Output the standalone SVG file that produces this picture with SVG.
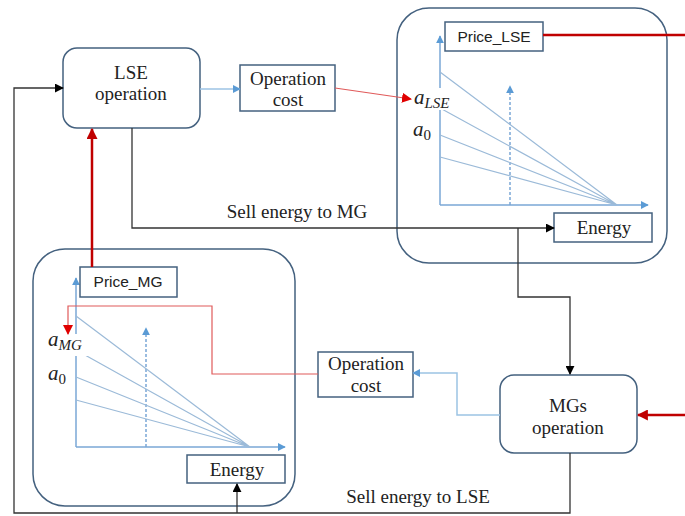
<svg xmlns="http://www.w3.org/2000/svg" width="685" height="516" viewBox="0 0 685 516">
<defs>
<style>
.box{fill:#fff;stroke:#44617f;stroke-width:1.5}
.big{fill:none;stroke:#44617f;stroke-width:1.5}
.t{font-family:'Liberation Serif','Times New Roman',serif;font-size:19px;fill:#222;text-anchor:middle}
.s{font-family:'Liberation Sans',Arial,sans-serif;font-size:15.5px;fill:#222;text-anchor:middle}
.m{font-family:'Liberation Serif','Times New Roman',serif;font-style:italic;font-size:21px;fill:#222}
.sub{font-size:15px}
.ax{stroke:#7aa7d6;stroke-width:1.5;fill:none}
.ln{stroke:#9bbad8;stroke-width:1.2;fill:none}
.blk{stroke:#333;stroke-width:1.3;fill:none}
.red{stroke:#c00000;stroke-width:2.5;fill:none}
.redt{stroke:#e05a5a;stroke-width:1.2;fill:none}
.blu{stroke:#9cc3e4;stroke-width:1.5;fill:none}
</style>
<marker id="ab" viewBox="0 0 10 10" refX="9" refY="5" markerWidth="8" markerHeight="8" markerUnits="userSpaceOnUse" orient="auto"><path d="M0,0L10,5L0,10z" fill="#5b9bd5"/></marker>
<marker id="ak" viewBox="0 0 10 10" refX="9" refY="5" markerWidth="9" markerHeight="9" markerUnits="userSpaceOnUse" orient="auto"><path d="M0,0L10,5L0,10z" fill="#000"/></marker>
<marker id="ar" viewBox="0 0 10 10" refX="9" refY="5" markerWidth="11" markerHeight="11" markerUnits="userSpaceOnUse" orient="auto"><path d="M0,0L10,5L0,10z" fill="#c00000"/></marker>
<marker id="art" viewBox="0 0 10 10" refX="9" refY="5" markerWidth="10" markerHeight="10" markerUnits="userSpaceOnUse" orient="auto"><path d="M0,0L10,5L0,10z" fill="#e00000"/></marker>
</defs>
<rect width="685" height="516" fill="#fff"/>

<g id="lse-market">
<rect class="big" x="397" y="8" width="270" height="255" rx="32"/>
<path class="ax" d="M440,205V36" marker-end="url(#ab)"/>
<path class="ax" d="M440,205H648" marker-end="url(#ab)"/>
<path class="ax" d="M510,205V86" stroke-dasharray="3,2" marker-end="url(#ab)"/>
<path class="ln" d="M440,72L617,205M440,108L617,205M440,135L617,205M440,157L617,205"/>
<rect x="412" y="88" width="42" height="22" fill="#fff"/>
<text class="m" x="414" y="104">a<tspan class="sub" dy="4">LSE</tspan></text>
<rect x="410" y="120" width="28" height="24" fill="#fff"/>
<text class="m" x="413" y="136">a<tspan class="sub" font-style="normal" dy="4">0</tspan></text>
</g>
<g id="price-lse"><rect class="box" x="445" y="22" width="98" height="29"/><text class="s" x="494" y="42">Price_LSE</text></g>
<g id="energy-lse"><rect class="box" x="554" y="213" width="98" height="29"/><text class="t" x="604" y="234">Energy</text></g>

<g id="mg-market">
<rect class="big" x="33" y="249" width="262" height="257" rx="32"/>
<path class="ax" d="M76,447V278" marker-end="url(#ab)"/>
<path class="ax" d="M76,447H285" marker-end="url(#ab)"/>
<path class="ax" d="M146,447V328" stroke-dasharray="3,2" marker-end="url(#ab)"/>
<path class="ln" d="M76,316L250,447M76,350L250,447M76,377L250,447M76,400L250,447"/>
<rect x="46" y="334" width="42" height="22" fill="#fff"/>
<text class="m" x="48" y="346">a<tspan class="sub" dy="4">MG</tspan></text>
<rect x="46" y="364" width="28" height="24" fill="#fff"/>
<text class="m" x="48" y="380">a<tspan class="sub" font-style="normal" dy="4">0</tspan></text>
</g>
<g id="price-mg"><rect class="box" x="80" y="267" width="97" height="30"/><text class="s" x="128" y="287">Price_MG</text></g>
<g id="energy-mg"><rect class="box" x="187" y="455" width="98" height="28"/><text class="t" x="237" y="476">Energy</text></g>

<g id="lse-operation"><rect class="box" x="63" y="48" width="137" height="80" rx="14"/><text class="t" x="131" y="79">LSE</text><text class="t" x="131" y="100">operation</text></g>
<g id="op-cost-lse"><rect class="box" x="240" y="65" width="95" height="46"/><text class="t" x="288" y="85">Operation</text><text class="t" x="288" y="106">cost</text></g>
<g id="mgs-operation"><rect class="box" x="500" y="375" width="137" height="78" rx="14"/><text class="t" x="568" y="412">MGs</text><text class="t" x="568" y="434">operation</text></g>
<g id="op-cost-mg"><rect class="box" x="318" y="352" width="95" height="45"/><text class="t" x="366" y="370">Operation</text><text class="t" x="366" y="392">cost</text></g>

<g id="connectors">
<path class="blu" d="M200,89H240" marker-end="url(#ab)"/>
<path class="redt" d="M335,88L411,99" marker-end="url(#art)"/>
<path class="red" d="M543,35H685"/>
<path class="red" d="M685,415H638" marker-end="url(#ar)"/>
<path class="red" d="M92,267V129" marker-end="url(#ar)"/>
<path class="blk" d="M132,128V228H554" marker-end="url(#ak)"/>
<path class="blk" d="M518,228V297H570V374" marker-end="url(#ak)"/>
<path class="blk" d="M570,453V513H14V88H63" marker-end="url(#ak)"/>
<path class="blk" d="M237,513V484" marker-end="url(#ak)"/>
<path class="blu" d="M500,415H457V373H413" marker-end="url(#ab)"/>
<path class="redt" d="M318,374H212V306H68V334" marker-end="url(#art)"/>
<text class="t" x="297" y="218">Sell energy to MG</text>
<text class="t" x="418" y="503">Sell energy to LSE</text>
</g>
</svg>
